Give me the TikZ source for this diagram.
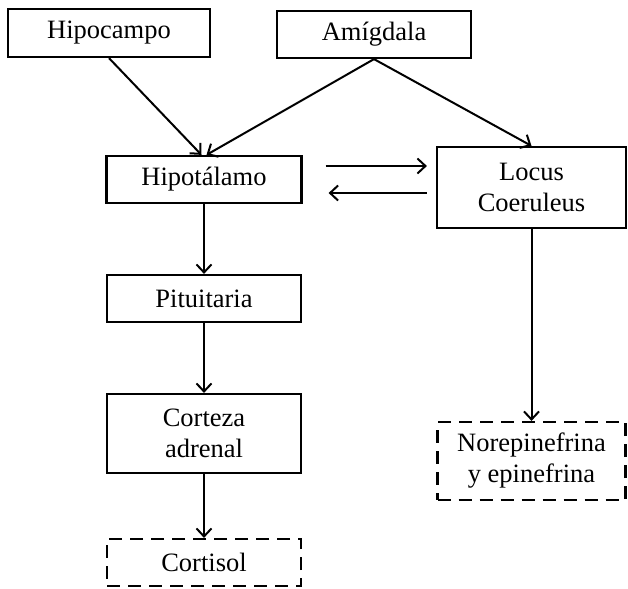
\documentclass[tikz,border=0pt]{standalone}
\usepackage{fontspec}
\setmainfont{Liberation Serif}
\usetikzlibrary{arrows.meta}
\begin{document}
\begin{tikzpicture}[x=1pt,y=-1pt,
  box/.style={draw, line width=2.2pt, align=center, inner sep=0pt,
    font=\fontsize{26.5}{31}\selectfont},
  dbox/.style={box, dash pattern=on 13pt off 8pt},
  arr/.style={line width=2pt, -{Straight Barb[length=8pt,width=15pt,line width=2pt]}}]
\useasboundingbox (0,0) rectangle (628,588);
\node[box, minimum width=202pt, minimum height=48pt] (hipocampo) at (109,33) {Hipocampo};
\node[box, minimum width=194pt, minimum height=47pt] (amigdala) at (374,34.5) {Amígdala};
\node[box, minimum width=195pt, minimum height=47pt] (hipotalamo) at (204,179.5) {Hipotálamo};
\node[box, minimum width=189pt, minimum height=81pt] (locus) at (531.5,187.5) {Locus\\Coeruleus};
\node[box, minimum width=194pt, minimum height=47pt] (pituitaria) at (204,298.5) {Pituitaria};
\node[box, minimum width=194pt, minimum height=79pt] (corteza) at (204,433.5) {Corteza\\adrenal};
\node[dbox, minimum width=194pt, minimum height=47pt] (cortisol) at (204,562.5) {Cortisol};
\node[dbox, minimum width=188pt, minimum height=78pt] (norepi) at (531.5,461) {Norepinefrina\\y epinefrina};
\draw[arr] (hipocampo.south) -- ([xshift=-2.5pt]hipotalamo.north);
\draw[arr] (amigdala.south) -- ([xshift=2.5pt]hipotalamo.north);
\draw[arr] (amigdala.south) -- (locus.north);
\coordinate (a1) at ([xshift=23pt,yshift=13.5pt]hipotalamo.east);
\coordinate (a2) at ([xshift=26pt,yshift=-13.5pt]hipotalamo.east);
\draw[arr] (a1) -- ([xshift=-9pt]locus.west |- a1);
\draw[arr] ([xshift=-9pt]locus.west |- a2) -- (a2);
\draw[arr] (hipotalamo.south) -- (pituitaria.north);
\draw[arr] (pituitaria.south) -- (corteza.north);
\draw[arr] (corteza.south) -- (cortisol.north);
\draw[arr] (locus.south) -- (norepi.north);
\end{tikzpicture}
\end{document}
